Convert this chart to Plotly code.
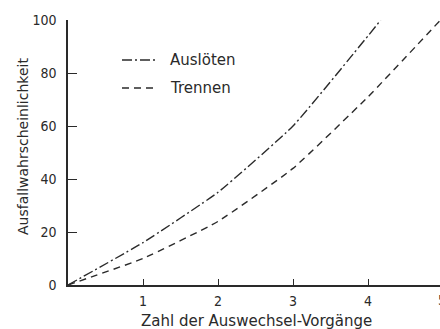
import plotly.graph_objects as go

x_ausloeten = [0, 1, 2, 3, 4, 4.17]
y_ausloeten = [0, 16, 35, 60, 94, 100]
x_trennen = [0, 1, 2, 3, 4, 5]
y_trennen = [0, 10, 24, 44, 71, 101]
x_ticks = [1, 2, 3, 4]
y_ticks = [0, 20, 40, 60, 80, 100]

ink = "#2a2a2a"
tick_font = dict(family="DejaVu Sans Condensed", size=14, color=ink)
font = dict(family="DejaVu Sans", size=15, color=ink)

L, R, T, B = 68, 0, 20, 44
PW, PH = 440 - L - R, 329 - T - B

def px(xp):
    return (xp - L) / PW

def py(yp):
    return 1 - (yp - T) / PH

fig = go.Figure()
fig.add_trace(go.Scatter(x=x_ausloeten, y=y_ausloeten, mode="lines",
                         line=dict(color=ink, width=1.4, dash="10px,3px,2px,3px"),
                         line_shape="spline", line_smoothing=0.4, showlegend=False))
fig.add_trace(go.Scatter(x=x_trennen, y=y_trennen, mode="lines",
                         line=dict(color=ink, width=1.4, dash="7px,5px"),
                         line_shape="spline", line_smoothing=0.4, showlegend=False))

# legend drawn as shapes + annotations in paper coords
legend = [("Auslöten", "10px,3px,2px,3px", 60), ("Trennen", "7px,5px", 88)]
for name, dash, ypix in legend:
    fig.add_shape(type="line", xref="paper", yref="paper",
                  x0=px(122), x1=px(158), y0=py(ypix), y1=py(ypix),
                  line=dict(color=ink, width=1.4, dash=dash))
    fig.add_annotation(xref="paper", yref="paper", x=px(168), y=py(ypix),
                       text=name, showarrow=False, xanchor="left", yanchor="middle",
                       font=font)

fig.add_annotation(x=px(436), y=0, xref="paper", yref="paper", text="5",
                   showarrow=False, xanchor="left", yanchor="top", yshift=-5,
                   font=tick_font)

# axis titles
fig.add_annotation(x=px(256), y=py(321), xref="paper", yref="paper",
                   text="Zahl der Auswechsel-Vorgänge", showarrow=False,
                   xanchor="center", yanchor="middle", font=font)
fig.add_annotation(x=px(23), y=py(147), xref="paper", yref="paper",
                   text="Ausfallwahrscheinlichkeit", showarrow=False, textangle=-90,
                   xanchor="center", yanchor="middle",
                   font=dict(family="DejaVu Sans", size=14, color=ink))

fig.update_layout(
    width=440, height=329,
    margin=dict(l=L, r=R, t=T, b=B),
    paper_bgcolor="white", plot_bgcolor="white",
    font=font,
    xaxis=dict(range=[0, 4.96], tickvals=x_ticks, ticks="inside", ticklen=6,
               tickwidth=1.3, tickcolor=ink, showline=True, linecolor=ink, linewidth=1.5,
               showgrid=False, zeroline=False, ticklabelstandoff=2, tickfont=tick_font),
    yaxis=dict(range=[0, 100], tickvals=y_ticks, ticks="inside", ticklen=9,
               tickwidth=1.3, tickcolor=ink, showline=True, linecolor=ink, linewidth=1.5,
               showgrid=False, zeroline=False, ticklabelstandoff=7, tickfont=tick_font),
)

fig.write_html("out.html", config={"displayModeBar": False},
               post_script="document.body.style.margin='0';document.body.style.overflow='hidden';")
